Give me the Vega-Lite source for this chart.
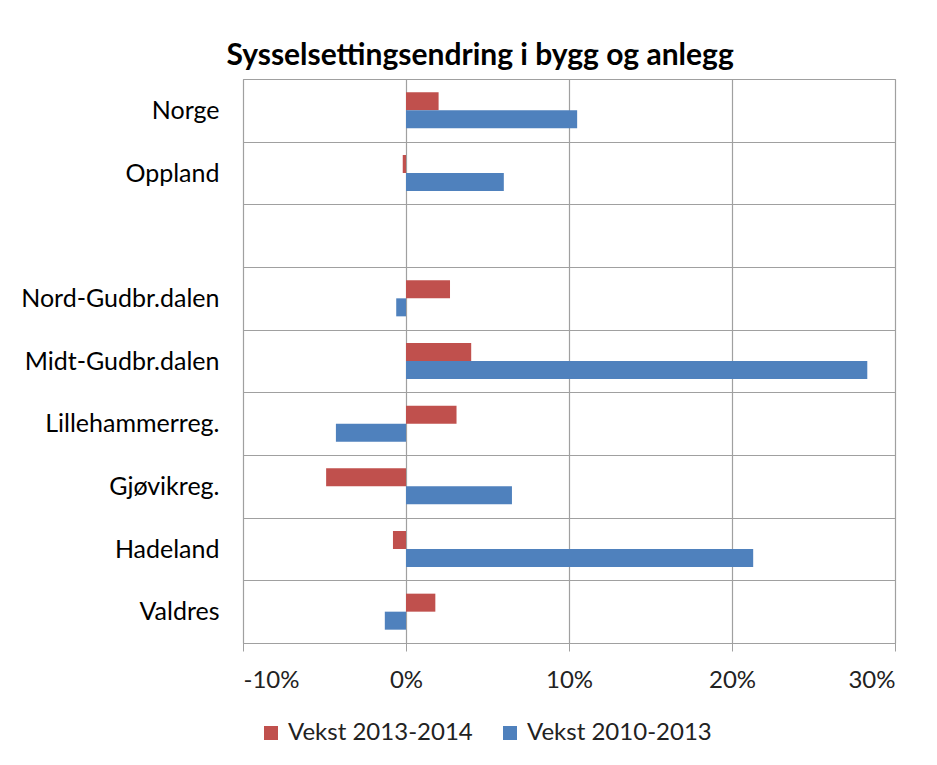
{
  "$schema": "https://vega.github.io/schema/vega-lite/v6.json",
  "width": 652,
  "height": 564,
  "padding": {"left": 20, "top": 41, "right": 10, "bottom": 10},
  "background": "white",
  "title": {
    "text": "Sysselsettingsendring i bygg og anlegg",
    "font": "Lato",
    "fontSize": 30,
    "fontWeight": "bold",
    "color": "black",
    "anchor": "middle",
    "frame": "bounds",
    "offset": -4,
    "dx": 22
  },
  "data": {
    "values": [
      {"region": "Norge", "series": "Vekst 2013-2014", "value": 0.020},
      {"region": "Norge", "series": "Vekst 2010-2013", "value": 0.105},
      {"region": "Oppland", "series": "Vekst 2013-2014", "value": -0.002},
      {"region": "Oppland", "series": "Vekst 2010-2013", "value": 0.060},
      {"region": "Nord-Gudbr.dalen", "series": "Vekst 2013-2014", "value": 0.027},
      {"region": "Nord-Gudbr.dalen", "series": "Vekst 2010-2013", "value": -0.006},
      {"region": "Midt-Gudbr.dalen", "series": "Vekst 2013-2014", "value": 0.040},
      {"region": "Midt-Gudbr.dalen", "series": "Vekst 2010-2013", "value": 0.283},
      {"region": "Lillehammerreg.", "series": "Vekst 2013-2014", "value": 0.031},
      {"region": "Lillehammerreg.", "series": "Vekst 2010-2013", "value": -0.043},
      {"region": "Gjøvikreg.", "series": "Vekst 2013-2014", "value": -0.049},
      {"region": "Gjøvikreg.", "series": "Vekst 2010-2013", "value": 0.065},
      {"region": "Hadeland", "series": "Vekst 2013-2014", "value": -0.008},
      {"region": "Hadeland", "series": "Vekst 2010-2013", "value": 0.213},
      {"region": "Valdres", "series": "Vekst 2013-2014", "value": 0.018},
      {"region": "Valdres", "series": "Vekst 2010-2013", "value": -0.013}
    ]
  },
  "mark": {"type": "bar"},
  "encoding": {
    "y": {
      "field": "region",
      "type": "nominal",
      "scale": {
        "domain": ["Norge", "Oppland", " ", "Nord-Gudbr.dalen", "Midt-Gudbr.dalen", "Lillehammerreg.", "Gjøvikreg.", "Hadeland", "Valdres"],
        "paddingInner": 0,
        "paddingOuter": 0
      },
      "axis": {
        "title": null,
        "ticks": false,
        "domain": false,
        "grid": true,
        "tickBand": "extent",
        "gridColor": "#a0a0a0",
        "gridWidth": 1.2,
        "labelFont": "Lato",
        "labelFontSize": 25,
        "labelColor": "black",
        "labelPadding": 24,
        "labelLimit": 0
      }
    },
    "yOffset": {
      "field": "series",
      "type": "nominal",
      "sort": ["Vekst 2013-2014", "Vekst 2010-2013"],
      "scale": {"paddingOuter": 0.74, "paddingInner": 0}
    },
    "x": {
      "field": "value",
      "type": "quantitative",
      "scale": {"domain": [-0.1, 0.3], "nice": false},
      "axis": {
        "title": null,
        "values": [-0.1, 0, 0.1, 0.2, 0.3],
        "labelExpr": "round(datum.value*100) + '%'",
        "grid": true,
        "gridColor": "#a0a0a0",
        "gridWidth": 1.2,
        "tickColor": "#a0a0a0",
        "tickSize": 8,
        "domainColor": "#a0a0a0",
        "labelFont": "Lato",
        "labelFontSize": 24,
        "labelColor": "#222222",
        "labelPadding": 17
      }
    },
    "color": {
      "field": "series",
      "type": "nominal",
      "scale": {
        "domain": ["Vekst 2013-2014", "Vekst 2010-2013"],
        "range": ["#C0504D", "#4F81BD"]
      },
      "legend": {
        "orient": "bottom",
        "title": null,
        "symbolType": "square",
        "symbolSize": 196,
        "symbolStrokeWidth": 0,
        "labelFont": "Lato",
        "labelFontSize": 24,
        "labelColor": "#222222",
        "labelOffset": 5,
        "labelLimit": 0,
        "columnPadding": 25,
        "padding": 16,
        "offset": 13
      }
    }
  },
  "config": {"view": {"stroke": "#a0a0a0"}}
}
